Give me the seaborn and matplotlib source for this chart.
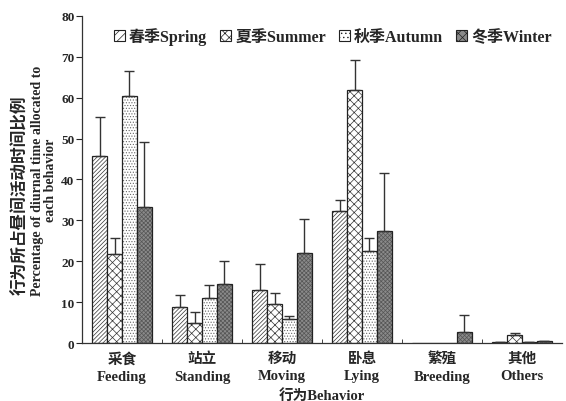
import numpy as np
import pandas as pd
import matplotlib
matplotlib.use("Agg")
import matplotlib.pyplot as plt
import seaborn as sns
from matplotlib.patches import Patch
from matplotlib.container import BarContainer

behaviors = ["采食\nFeeding", "站立\nStanding", "移动\nMoving", "卧息\nLying", "繁殖\nBreeding", "其他\nOthers"]
seasons = ["春季Spring", "夏季Summer", "秋季Autumn", "冬季Winter"]
spring = [45.7, 8.8, 13.1, 32.4, 0.0, 0.2]
summer = [21.7, 4.9, 9.5, 61.8, 0.0, 2.0]
autumn = [60.5, 11.1, 5.8, 22.6, 0.0, 0.2]
winter = [33.2, 14.5, 22.1, 27.4, 2.8, 0.4]
spring_err = [9.6, 2.9, 6.2, 2.6, 0.0, 0.1]
summer_err = [3.9, 2.8, 2.8, 7.5, 0.0, 0.4]
autumn_err = [6.0, 3.0, 0.9, 3.0, 0.0, 0.1]
winter_err = [15.9, 5.5, 8.2, 14.3, 4.1, 0.1]

vals = [spring, summer, autumn, winter]
errs = [spring_err, summer_err, autumn_err, winter_err]
rows = []
for s, v in zip(seasons, vals):
    for b, x in zip(behaviors, v):
        rows.append({"behavior": b, "season": s, "value": x})
df = pd.DataFrame(rows)

sns.set_style("ticks")
fam = ["Liberation Serif", "Noto Sans CJK SC"]
plt.rcParams["font.family"] = fam
plt.rcParams["font.weight"] = "bold"
plt.rcParams["hatch.linewidth"] = 0.5

fig = plt.figure(figsize=(5.66, 4.02), dpi=100)
ax = fig.add_axes([0.145, 0.144, 0.848, 0.814])

sns.barplot(data=df, x="behavior", y="value", hue="season", order=behaviors,
            hue_order=seasons, ax=ax, width=0.74, legend=False, errorbar=None)

hatches = ["////////", "xxxx", "......", "xxxxxxxx"]
faces = ["white", "white", "white", "#8a8a8a"]
hcol = ["#333333", "#333333", "#666666", "#555555"]
bar_conts = [c for c in ax.containers if isinstance(c, BarContainer)]
for i, cont in enumerate(bar_conts):
    xs = []
    for p in cont.patches:
        p.set_facecolor(faces[i])
        p.set_edgecolor("#222222")
        p.set_hatch(hatches[i])
        p.set_linewidth(0.9)
        p._hatch_color = matplotlib.colors.to_rgba(hcol[i])
        xs.append(p.get_x() + p.get_width() / 2)
    e = np.array(errs[i])
    v = np.array(vals[i])
    mask = e > 0
    ax.errorbar(np.array(xs)[mask], v[mask], yerr=[np.zeros(mask.sum()), e[mask]],
                fmt="none", ecolor="#333333", elinewidth=1.0, capsize=3.5, capthick=1.0)

ax.set_xlim(-0.5, 5.5)
ax.set_ylim(0, 80)
ax.set_yticks(range(0, 81, 10))
ax.set_xticks(range(6))
ax.set_xticklabels(behaviors, fontsize=10.5, fontweight="bold", linespacing=1.45)
ax.set_xticks(np.arange(0.5, 5, 1), minor=True)
ax.tick_params(axis="x", which="major", length=0, pad=6)
ax.tick_params(axis="x", which="minor", direction="in", length=3)
ax.tick_params(axis="y", direction="out", length=4, labelsize=9.5, pad=1.5)
for t in ax.get_yticklabels():
    t.set_fontweight("bold")
sns.despine(ax=ax)
for sp in ["left", "bottom"]:
    ax.spines[sp].set_linewidth(0.9)
    ax.spines[sp].set_color("#333333")

ax.set_xlabel("行为Behavior", fontsize=10.5, fontweight="bold", labelpad=4)
ax.set_ylabel("Percentage of diurnal time allocated to\neach behavior",
              fontsize=10, fontweight="bold", linespacing=1.0)
ax.yaxis.set_label_coords(-0.052, 0.5)
fig.text(0.038, 0.515, "行为所占昼间活动时间比例", rotation=90, ha="center", va="center",
         fontsize=12, fontweight="bold")

handles = [Patch(facecolor=faces[i], edgecolor="#222222", hatch=hatches[i][:4], linewidth=0.8)
           for i in range(4)]
ax.legend(handles, seasons, ncol=4, loc="upper center", bbox_to_anchor=(0.522, 1.01),
          frameon=False, handlelength=0.7, handleheight=0.7,
          handletextpad=0.25, columnspacing=0.8, prop={"weight": "bold", "size": 11.5})

fig.savefig("out.png", dpi=100)
